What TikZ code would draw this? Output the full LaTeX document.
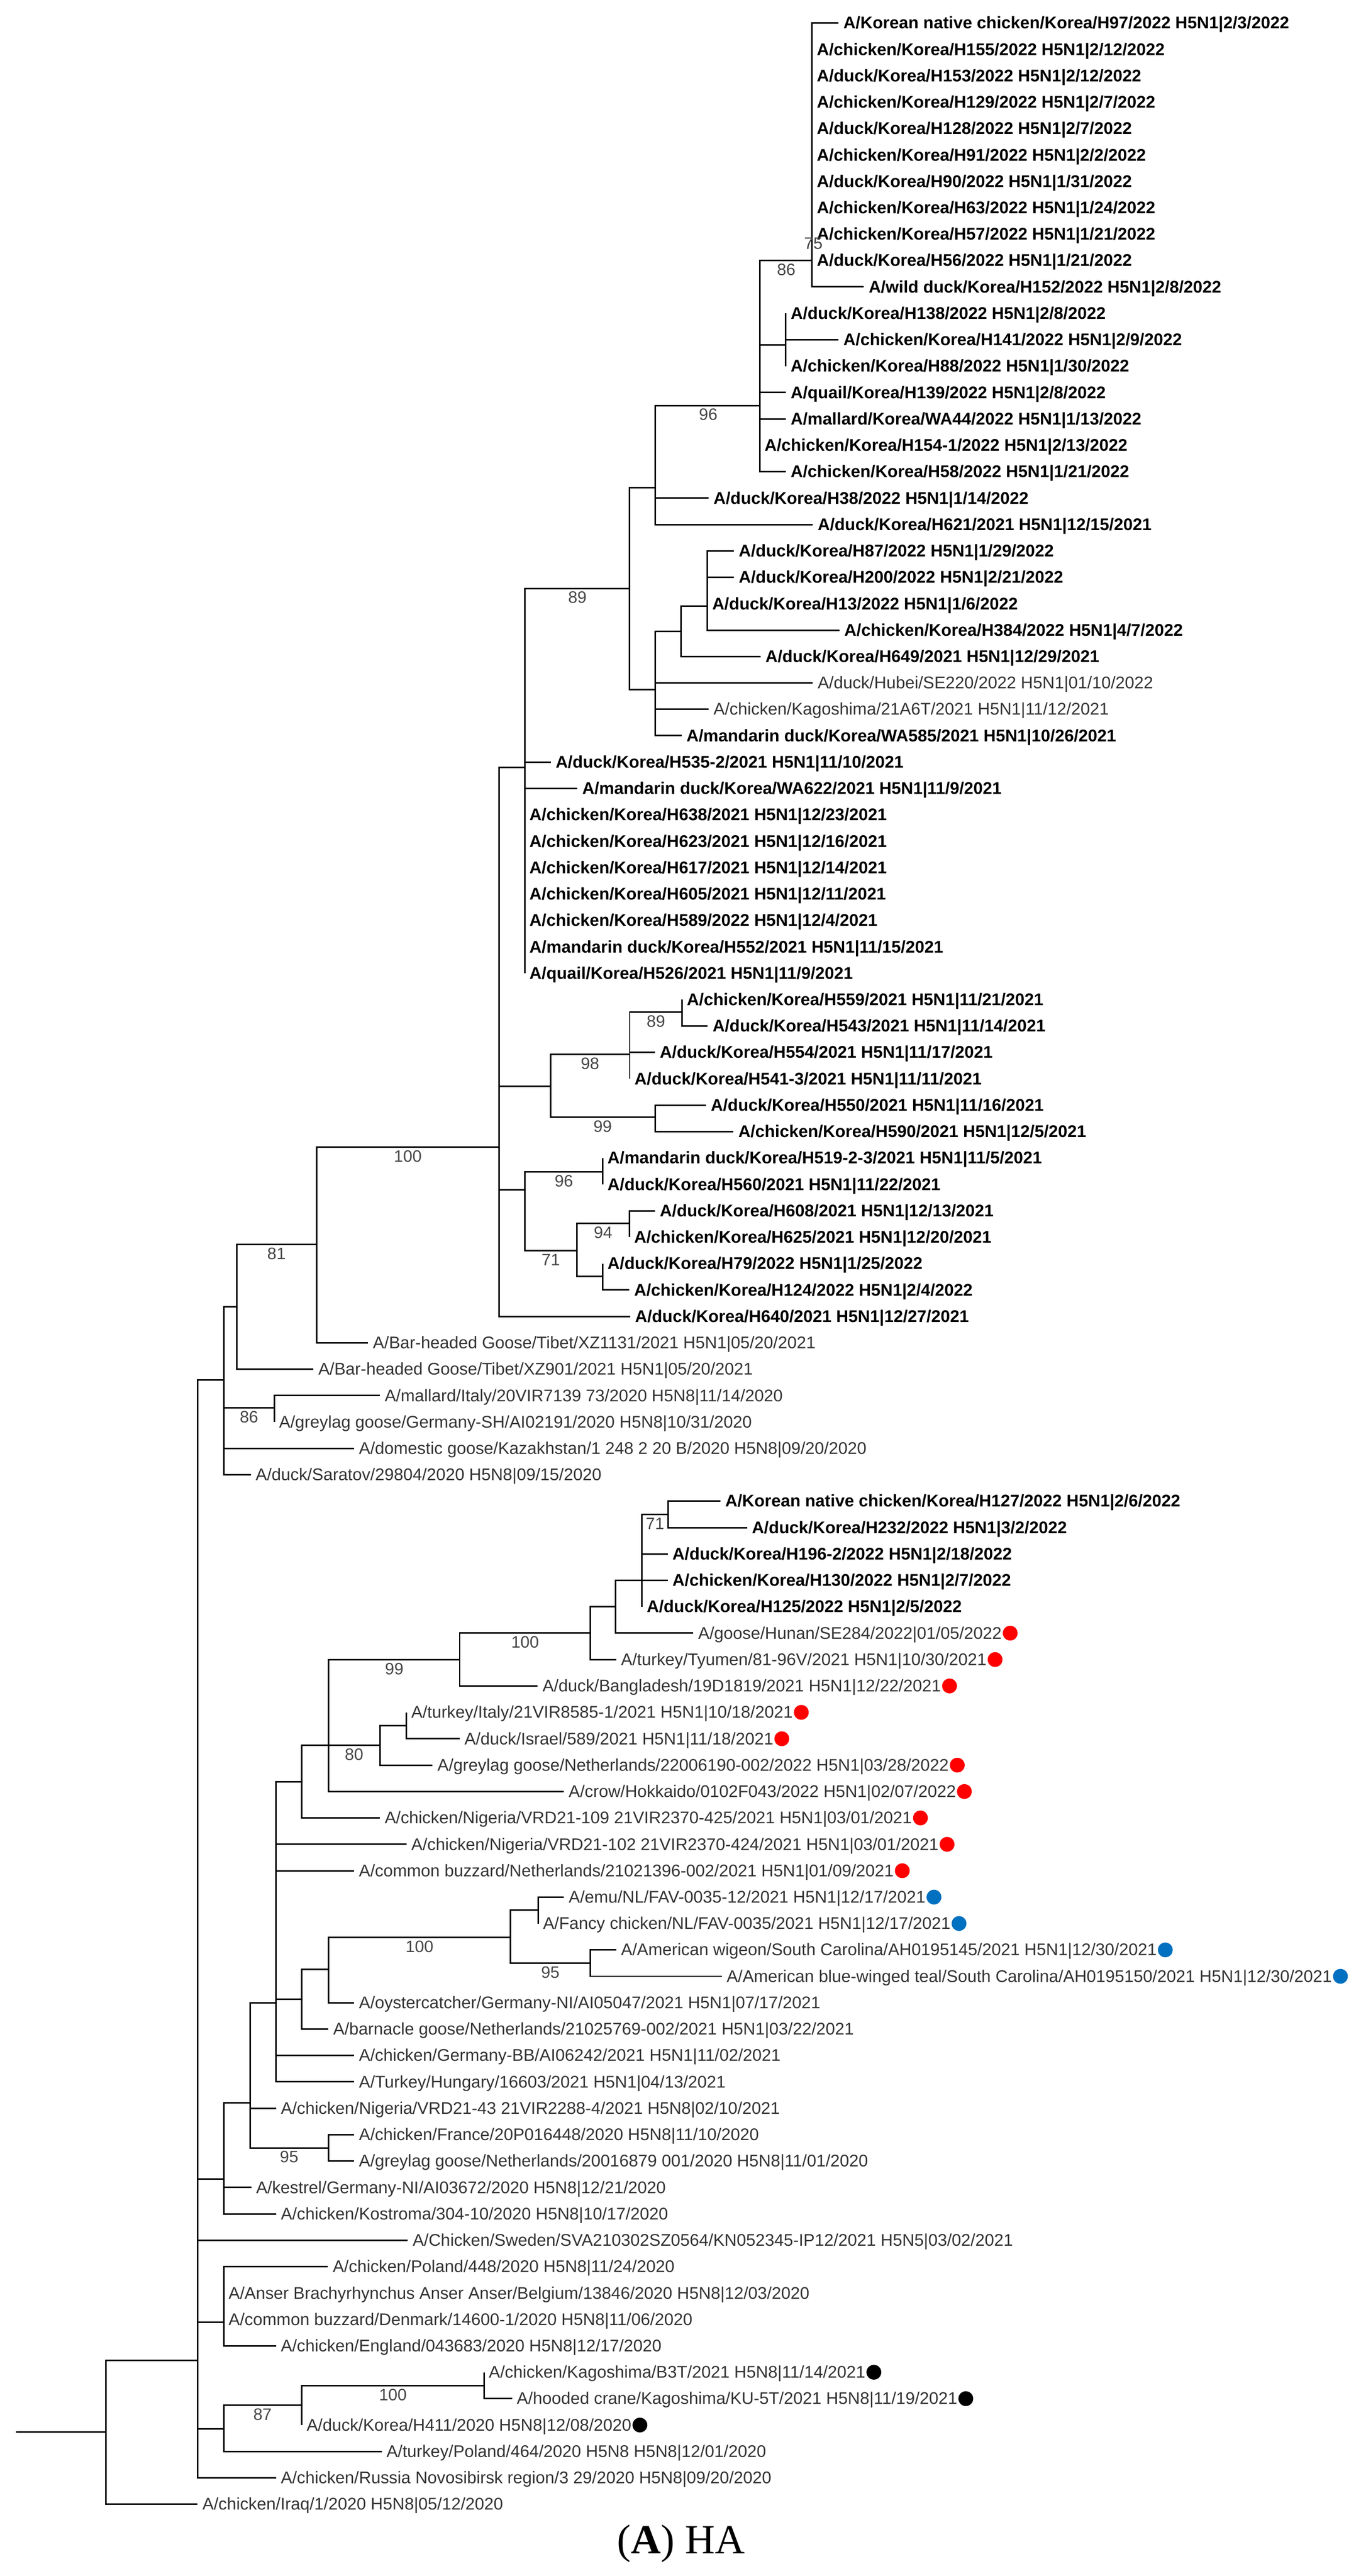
\documentclass[tikz,border=0pt]{standalone}
\usepackage{fontspec}
\setmainfont{Liberation Sans}
\newfontfamily\capfont{Liberation Serif}
\usetikzlibrary{calc}
\definecolor{dotred}{RGB}{255,0,0}
\definecolor{dotblue}{RGB}{0,112,192}
\definecolor{txtgray}{RGB}{51,51,51}
\definecolor{bsgray}{RGB}{70,70,70}
\tikzset{
  br/.style={line width=0.85pt, draw=black},
  lblB/.style={anchor=base west, inner sep=0pt, text=black, font=\fontsize{9.375}{11}\selectfont\bfseries, xshift=2.5pt, yshift=-3.2pt},
  lblR/.style={anchor=base west, inner sep=0pt, text=txtgray, font=\fontsize{9.375}{11}\selectfont, xshift=2.5pt, yshift=-3.2pt},
  bs/.style={anchor=base, inner sep=0pt, text=bsgray, font=\fontsize{9.2}{11}\selectfont, yshift=-8.25pt},
  dotn/.style={circle, inner sep=0pt, minimum size=8.2pt, draw=none},
}
\newcommand{\LB}[5]{\coordinate (#1) at (#3,#4);\draw[br] (#2) |- (#1);\node[lblB] (#1t) at (#1) {#5};}
\newcommand{\LR}[5]{\coordinate (#1) at (#3,#4);\draw[br] (#2) |- (#1);\node[lblR] (#1t) at (#1) {#5};}
\newcommand{\DOT}[2]{\node[dotn, fill=#2] (#1d) at ($(#1t.east |- #1)+(4.5pt,0)$) {};}
\newcommand{\BS}[4]{\node[bs] (#1) at (#2,#3) {#4};}
\begin{document}
\begin{tikzpicture}[x=0.25pt, y=-14.6325pt]
\useasboundingbox (0,0.1286) rectangle (3016,97.72);
% internal nodes
\coordinate (root0) at (35,92.27);
\coordinate (n235) at (235,92.27);
\coordinate (n438) at (438,89.55);
\coordinate (n496a) at (496,52.4);
\coordinate (n525) at (525,49.64);
\coordinate (n702) at (702,47.28);
\coordinate (n1106) at (1106,43.59);
\coordinate (n1163) at (1163,29.21);
\coordinate (n1395) at (1395,22.42);
\coordinate (n1453a) at (1453,18.6);
\coordinate (n1684) at (1684,15.49);
\coordinate (n1800) at (1800,10);
\coordinate (n1742) at (1742,13.2);
\coordinate (n1453b) at (1453,26.25);
\coordinate (n1510) at (1510,24.05);
\coordinate (n1568) at (1568,23.09);
\coordinate (n1221) at (1221,41.29);
\coordinate (n1396) at (1396,40.07);
\coordinate (n1512) at (1512,38.47);
\coordinate (n1452) at (1452,42.45);
\coordinate (n1163b) at (1163,45.2);
\coordinate (n1336a) at (1336,44.52);
\coordinate (n1279) at (1279,47.51);
\coordinate (n1395b) at (1395,46.48);
\coordinate (n1336b) at (1336,48.48);
\coordinate (n608) at (608,53.47);
\coordinate (n496b) at (496,82.68);
\coordinate (n555) at (555,79.8);
\coordinate (n612) at (612,76.0);
\coordinate (n669a) at (669,67.63);
\coordinate (n728) at (728,66.25);
\coordinate (n1019) at (1019,63);
\coordinate (n1309) at (1309,62);
\coordinate (n1365) at (1365,61);
\coordinate (n1423) at (1423,60);
\coordinate (n1481) at (1481,57.5);
\coordinate (n842) at (842,66.25);
\coordinate (n901) at (901,65.5);
\coordinate (n669b) at (669,75.87);
\coordinate (n728b) at (728,74.74);
\coordinate (n1132) at (1132,73.53);
\coordinate (n1193) at (1193,72.5);
\coordinate (n1309b) at (1309,74.5);
\coordinate (n728c) at (728,81.5);
\coordinate (n496c) at (496,88.1);
\coordinate (n496d) at (496,92.15);
\coordinate (n669c) at (669,91.25);
\coordinate (n1073) at (1073,90.5);
% internal edges
\draw[br] (root0) -- (n235);
\draw[br] (n235) |- (n438);
\draw[br] (n438) |- (n496a);
\draw[br] (n438) |- (n496b);
\draw[br] (n438) |- (n496c);
\draw[br] (n438) |- (n496d);
\draw[br] (n496a) |- (n525);
\draw[br] (n496a) |- (n608);
\draw[br] (n525) |- (n702);
\draw[br] (n702) |- (n1106);
\draw[br] (n1106) |- (n1163);
\draw[br] (n1106) |- (n1221);
\draw[br] (n1106) |- (n1163b);
\draw[br] (n1163) |- (n1395);
\draw[br] (n1395) |- (n1453a);
\draw[br] (n1395) |- (n1453b);
\draw[br] (n1453a) |- (n1684);
\draw[br] (n1684) |- (n1800);
\draw[br] (n1684) |- (n1742);
\draw[br] (n1453b) |- (n1510);
\draw[br] (n1510) |- (n1568);
\draw[br] (n1221) |- (n1396);
\draw[br] (n1221) |- (n1452);
\draw[br] (n1396) |- (n1512);
\draw[br] (n1163b) |- (n1336a);
\draw[br] (n1163b) |- (n1279);
\draw[br] (n1279) |- (n1395b);
\draw[br] (n1279) |- (n1336b);
\draw[br] (n496b) |- (n555);
\draw[br] (n555) |- (n612);
\draw[br] (n555) |- (n728c);
\draw[br] (n612) |- (n669a);
\draw[br] (n612) |- (n669b);
\draw[br] (n669a) |- (n728);
\draw[br] (n728) |- (n1019);
\draw[br] (n728) |- (n842);
\draw[br] (n1019) |- (n1309);
\draw[br] (n1309) |- (n1365);
\draw[br] (n1365) |- (n1423);
\draw[br] (n1423) |- (n1481);
\draw[br] (n842) |- (n901);
\draw[br] (n669b) |- (n728b);
\draw[br] (n728b) |- (n1132);
\draw[br] (n1132) |- (n1193);
\draw[br] (n1132) |- (n1309b);
\draw[br] (n496d) |- (n669c);
\draw[br] (n669c) |- (n1073);
% leaves
\LB{l1}{n1800}{1859}{1}{A/Korean native chicken/Korea/H97/2022 H5N1|2/3/2022}
\LB{l2}{n1800}{1800}{2}{A/chicken/Korea/H155/2022 H5N1|2/12/2022}
\LB{l3}{n1800}{1800}{3}{A/duck/Korea/H153/2022 H5N1|2/12/2022}
\LB{l4}{n1800}{1800}{4}{A/chicken/Korea/H129/2022 H5N1|2/7/2022}
\LB{l5}{n1800}{1800}{5}{A/duck/Korea/H128/2022 H5N1|2/7/2022}
\LB{l6}{n1800}{1800}{6}{A/chicken/Korea/H91/2022 H5N1|2/2/2022}
\LB{l7}{n1800}{1800}{7}{A/duck/Korea/H90/2022 H5N1|1/31/2022}
\LB{l8}{n1800}{1800}{8}{A/chicken/Korea/H63/2022 H5N1|1/24/2022}
\LB{l9}{n1800}{1800}{9}{A/chicken/Korea/H57/2022 H5N1|1/21/2022}
\LB{l10}{n1800}{1800}{10}{A/duck/Korea/H56/2022 H5N1|1/21/2022}
\LB{l11}{n1800}{1915}{11}{A/wild duck/Korea/H152/2022 H5N1|2/8/2022}
\LB{l12}{n1742}{1742}{12}{A/duck/Korea/H138/2022 H5N1|2/8/2022}
\LB{l13}{n1742}{1859}{13}{A/chicken/Korea/H141/2022 H5N1|2/9/2022}
\LB{l14}{n1742}{1742}{14}{A/chicken/Korea/H88/2022 H5N1|1/30/2022}
\LB{l15}{n1684}{1742}{15}{A/quail/Korea/H139/2022 H5N1|2/8/2022}
\LB{l16}{n1684}{1742}{16}{A/mallard/Korea/WA44/2022 H5N1|1/13/2022}
\LB{l17}{n1684}{1684}{17}{A/chicken/Korea/H154-1/2022 H5N1|2/13/2022}
\LB{l18}{n1684}{1742}{18}{A/chicken/Korea/H58/2022 H5N1|1/21/2022}
\LB{l19}{n1453a}{1571}{19}{A/duck/Korea/H38/2022 H5N1|1/14/2022}
\LB{l20}{n1453a}{1802}{20}{A/duck/Korea/H621/2021 H5N1|12/15/2021}
\LB{l21}{n1568}{1627}{21}{A/duck/Korea/H87/2022 H5N1|1/29/2022}
\LB{l22}{n1568}{1627}{22}{A/duck/Korea/H200/2022 H5N1|2/21/2022}
\LB{l23}{n1568}{1568}{23}{A/duck/Korea/H13/2022 H5N1|1/6/2022}
\LB{l24}{n1568}{1861}{24}{A/chicken/Korea/H384/2022 H5N1|4/7/2022}
\LB{l25}{n1510}{1686}{25}{A/duck/Korea/H649/2021 H5N1|12/29/2021}
\LR{l26}{n1453b}{1802}{26}{A/duck/Hubei/SE220/2022 H5N1|01/10/2022}
\LR{l27}{n1453b}{1571}{27}{A/chicken/Kagoshima/21A6T/2021 H5N1|11/12/2021}
\LB{l28}{n1453b}{1511}{28}{A/mandarin duck/Korea/WA585/2021 H5N1|10/26/2021}
\LB{l29}{n1163}{1221}{29}{A/duck/Korea/H535-2/2021 H5N1|11/10/2021}
\LB{l30}{n1163}{1280}{30}{A/mandarin duck/Korea/WA622/2021 H5N1|11/9/2021}
\LB{l31}{n1163}{1163}{31}{A/chicken/Korea/H638/2021 H5N1|12/23/2021}
\LB{l32}{n1163}{1163}{32}{A/chicken/Korea/H623/2021 H5N1|12/16/2021}
\LB{l33}{n1163}{1163}{33}{A/chicken/Korea/H617/2021 H5N1|12/14/2021}
\LB{l34}{n1163}{1163}{34}{A/chicken/Korea/H605/2021 H5N1|12/11/2021}
\LB{l35}{n1163}{1163}{35}{A/chicken/Korea/H589/2022 H5N1|12/4/2021}
\LB{l36}{n1163}{1163}{36}{A/mandarin duck/Korea/H552/2021 H5N1|11/15/2021}
\LB{l37}{n1163}{1163}{37}{A/quail/Korea/H526/2021 H5N1|11/9/2021}
\LB{l38}{n1512}{1512}{38}{A/chicken/Korea/H559/2021 H5N1|11/21/2021}
\LB{l39}{n1512}{1569}{39}{A/duck/Korea/H543/2021 H5N1|11/14/2021}
\LB{l40}{n1396}{1452}{40}{A/duck/Korea/H554/2021 H5N1|11/17/2021}
\LB{l41}{n1396}{1396}{41}{A/duck/Korea/H541-3/2021 H5N1|11/11/2021}
\LB{l42}{n1452}{1565}{42}{A/duck/Korea/H550/2021 H5N1|11/16/2021}
\LB{l43}{n1452}{1626}{43}{A/chicken/Korea/H590/2021 H5N1|12/5/2021}
\LB{l44}{n1336a}{1336}{44}{A/mandarin duck/Korea/H519-2-3/2021 H5N1|11/5/2021}
\LB{l45}{n1336a}{1336}{45}{A/duck/Korea/H560/2021 H5N1|11/22/2021}
\LB{l46}{n1395b}{1452}{46}{A/duck/Korea/H608/2021 H5N1|12/13/2021}
\LB{l47}{n1395b}{1395}{47}{A/chicken/Korea/H625/2021 H5N1|12/20/2021}
\LB{l48}{n1336b}{1336}{48}{A/duck/Korea/H79/2022 H5N1|1/25/2022}
\LB{l49}{n1336b}{1395}{49}{A/chicken/Korea/H124/2022 H5N1|2/4/2022}
\LB{l50}{n1106}{1397}{50}{A/duck/Korea/H640/2021 H5N1|12/27/2021}
\LR{l51}{n702}{816}{51}{A/Bar-headed Goose/Tibet/XZ1131/2021 H5N1|05/20/2021}
\LR{l52}{n525}{695}{52}{A/Bar-headed Goose/Tibet/XZ901/2021 H5N1|05/20/2021}
\LR{l53}{n608}{842}{53}{A/mallard/Italy/20VIR7139 73/2020 H5N8|11/14/2020}
\LR{l54}{n608}{608}{54}{A/greylag goose/Germany-SH/AI02191/2020 H5N8|10/31/2020}
\LR{l55}{n496a}{785}{55}{A/domestic goose/Kazakhstan/1 248 2 20 B/2020 H5N8|09/20/2020}
\LR{l56}{n496a}{556}{56}{A/duck/Saratov/29804/2020 H5N8|09/15/2020}
\LB{l57}{n1481}{1597}{57}{A/Korean native chicken/Korea/H127/2022 H5N1|2/6/2022}
\LB{l58}{n1481}{1656}{58}{A/duck/Korea/H232/2022 H5N1|3/2/2022}
\LB{l59}{n1423}{1480}{59}{A/duck/Korea/H196-2/2022 H5N1|2/18/2022}
\LB{l60}{n1423}{1480}{60}{A/chicken/Korea/H130/2022 H5N1|2/7/2022}
\LB{l61}{n1423}{1423}{61}{A/duck/Korea/H125/2022 H5N1|2/5/2022}
\LR{l62}{n1365}{1537}{62}{A/goose/Hunan/SE284/2022|01/05/2022}
\LR{l63}{n1309}{1366}{63}{A/turkey/Tyumen/81-96V/2021 H5N1|10/30/2021}
\LR{l64}{n1019}{1192}{64}{A/duck/Bangladesh/19D1819/2021 H5N1|12/22/2021}
\LR{l65}{n901}{901}{65}{A/turkey/Italy/21VIR8585-1/2021 H5N1|10/18/2021}
\LR{l66}{n901}{1019}{66}{A/duck/Israel/589/2021 H5N1|11/18/2021}
\LR{l67}{n842}{959}{67}{A/greylag goose/Netherlands/22006190-002/2022 H5N1|03/28/2022}
\LR{l68}{n728}{1250}{68}{A/crow/Hokkaido/0102F043/2022 H5N1|02/07/2022}
\LR{l69}{n669a}{842}{69}{A/chicken/Nigeria/VRD21-109 21VIR2370-425/2021 H5N1|03/01/2021}
\LR{l70}{n612}{901}{70}{A/chicken/Nigeria/VRD21-102 21VIR2370-424/2021 H5N1|03/01/2021}
\LR{l71}{n612}{785}{71}{A/common buzzard/Netherlands/21021396-002/2021 H5N1|01/09/2021}
\LR{l72}{n1193}{1250}{72}{A/emu/NL/FAV-0035-12/2021 H5N1|12/17/2021}
\LR{l73}{n1193}{1193}{73}{A/Fancy chicken/NL/FAV-0035/2021 H5N1|12/17/2021}
\LR{l74}{n1309b}{1366}{74}{A/American wigeon/South Carolina/AH0195145/2021 H5N1|12/30/2021}
\LR{l75}{n1309b}{1600}{75}{A/American blue-winged teal/South Carolina/AH0195150/2021 H5N1|12/30/2021}
\LR{l76}{n728b}{785}{76}{A/oystercatcher/Germany-NI/AI05047/2021 H5N1|07/17/2021}
\LR{l77}{n669b}{728}{77}{A/barnacle goose/Netherlands/21025769-002/2021 H5N1|03/22/2021}
\LR{l78}{n612}{785}{78}{A/chicken/Germany-BB/AI06242/2021 H5N1|11/02/2021}
\LR{l79}{n612}{785}{79}{A/Turkey/Hungary/16603/2021 H5N1|04/13/2021}
\LR{l80}{n555}{612}{80}{A/chicken/Nigeria/VRD21-43 21VIR2288-4/2021 H5N8|02/10/2021}
\LR{l81}{n728c}{785}{81}{A/chicken/France/20P016448/2020 H5N8|11/10/2020}
\LR{l82}{n728c}{785}{82}{A/greylag goose/Netherlands/20016879 001/2020 H5N8|11/01/2020}
\LR{l83}{n496b}{557}{83}{A/kestrel/Germany-NI/AI03672/2020 H5N8|12/21/2020}
\LR{l84}{n496b}{612}{84}{A/chicken/Kostroma/304-10/2020 H5N8|10/17/2020}
\LR{l85}{n438}{904}{85}{A/Chicken/Sweden/SVA210302SZ0564/KN052345-IP12/2021 H5N5|03/02/2021}
\LR{l86}{n496c}{727}{86}{A/chicken/Poland/448/2020 H5N8|11/24/2020}
\LR{l87}{n496c}{496}{87}{A/Anser Brachyrhynchus Anser Anser/Belgium/13846/2020 H5N8|12/03/2020}
\LR{l88}{n496c}{496}{88}{A/common buzzard/Denmark/14600-1/2020 H5N8|11/06/2020}
\LR{l89}{n496c}{612}{89}{A/chicken/England/043683/2020 H5N8|12/17/2020}
\LR{l90}{n1073}{1073}{90}{A/chicken/Kagoshima/B3T/2021 H5N8|11/14/2021}
\LR{l91}{n1073}{1135}{91}{A/hooded crane/Kagoshima/KU-5T/2021 H5N8|11/19/2021}
\LR{l92}{n669c}{669}{92}{A/duck/Korea/H411/2020 H5N8|12/08/2020}
\LR{l93}{n496d}{846}{93}{A/turkey/Poland/464/2020 H5N8 H5N8|12/01/2020}
\LR{l94}{n438}{612}{94}{A/chicken/Russia Novosibirsk region/3 29/2020 H5N8|09/20/2020}
\LR{l95}{n235}{438}{95}{A/chicken/Iraq/1/2020 H5N8|05/12/2020}
% dots
\DOT{l62}{dotred}\DOT{l63}{dotred}\DOT{l64}{dotred}\DOT{l65}{dotred}\DOT{l66}{dotred}
\DOT{l67}{dotred}\DOT{l68}{dotred}\DOT{l69}{dotred}\DOT{l70}{dotred}\DOT{l71}{dotred}
\DOT{l72}{dotblue}\DOT{l73}{dotblue}\DOT{l74}{dotblue}\DOT{l75}{dotblue}
\DOT{l90}{black}\DOT{l91}{black}\DOT{l92}{black}
% bootstrap values
\BS{b75}{1803}{9}{75}
\BS{b86}{1743}{10}{86}
\BS{b96}{1570}{15.49}{96}
\BS{b89}{1280}{22.42}{89}
\BS{b89b}{1454}{38.47}{89}
\BS{b98}{1308}{40.07}{98}
\BS{b99}{1336}{42.45}{99}
\BS{b100}{904}{43.59}{100}
\BS{b96b}{1250}{44.52}{96}
\BS{b94}{1337}{46.48}{94}
\BS{b71}{1221}{47.51}{71}
\BS{b81}{613}{47.28}{81}
\BS{b86b}{552}{53.47}{86}
\BS{b71b}{1452}{57.5}{71}
\BS{b100b}{1164}{62}{100}
\BS{b99b}{874}{63}{99}
\BS{b80}{785}{66.25}{80}
\BS{b100c}{930}{73.53}{100}
\BS{b95}{1220}{74.5}{95}
\BS{b95b}{641}{81.5}{95}
\BS{b100d}{871}{90.5}{100}
\BS{b87}{582}{91.25}{87}
% caption
\node[font=\capfont\fontsize{23}{27}\selectfont, inner sep=0pt] (cap) at (1510,96.5) {(\textbf{A}) HA};
\end{tikzpicture}
\end{document}
